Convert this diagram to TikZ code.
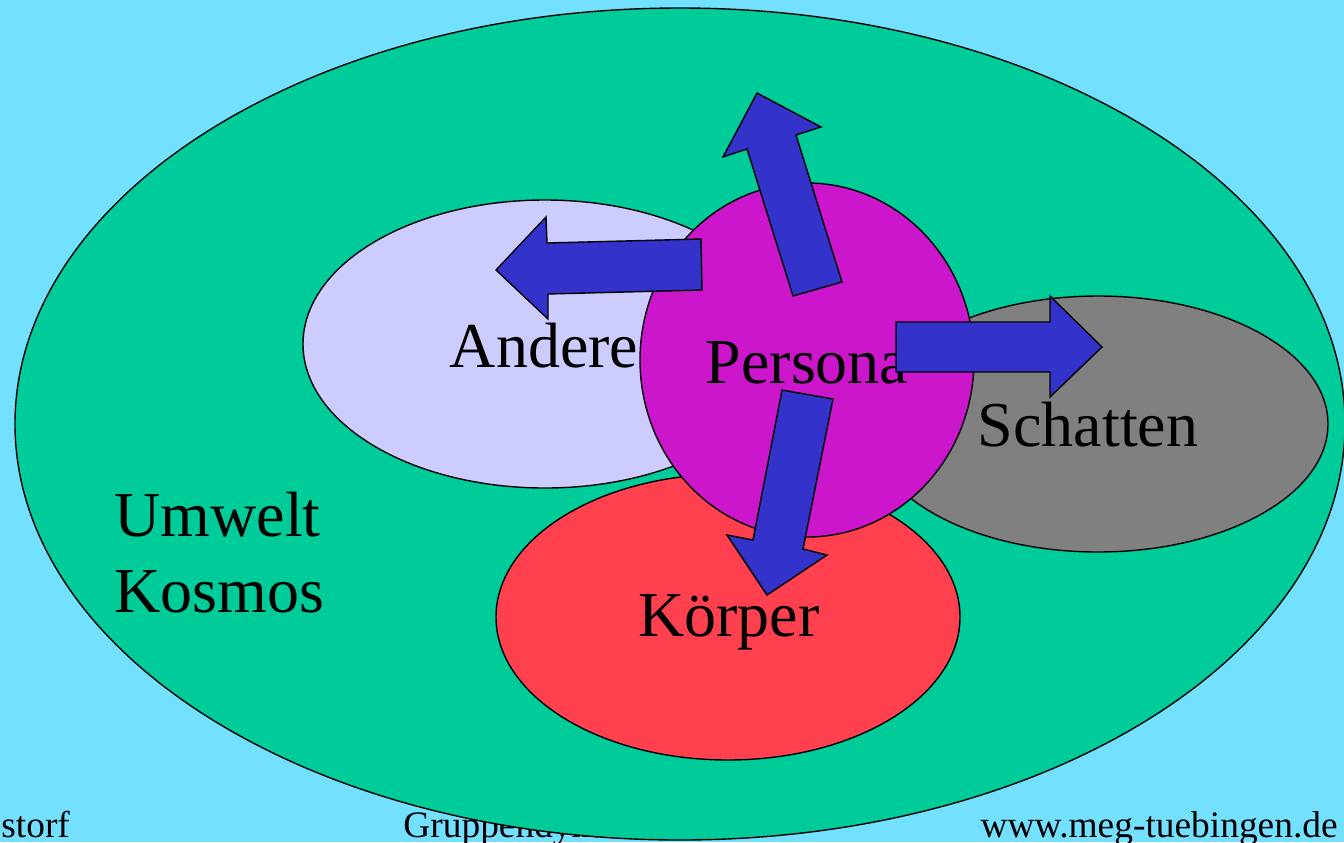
\documentclass[tikz,border=0pt]{standalone}
\usepackage{fontspec}
\setmainfont{Liberation Serif}
\usetikzlibrary{shapes.geometric}
\definecolor{himmel}{HTML}{74E0FF}
\definecolor{umweltgruen}{HTML}{00CC99}
\definecolor{andere}{HTML}{CCCCFF}
\definecolor{koerper}{HTML}{FF404F}
\definecolor{schatten}{HTML}{808080}
\definecolor{persona}{HTML}{CC16CC}
\definecolor{pfeilblau}{HTML}{3333CC}
\tikzset{
  feld/.style={draw=black, line width=0.7pt, ellipse, inner sep=0pt},
  gross/.style={font=\fontsize{32}{38}\selectfont, anchor=base, inner sep=0pt},
  fuss/.style={font=\fontsize{18.7}{22}\selectfont, anchor=base west, inner sep=0pt},
  pfeil/.style={draw=black, line width=0.7pt, fill=pfeilblau, line join=miter}
}
\begin{document}
\begin{tikzpicture}[x=0.5pt, y=-0.5pt]
  \useasboundingbox (0,0) rectangle (1344,842);
  \fill[himmel] (0,0) rectangle (1344,842);
  \clip (0,0) rectangle (1344,842);
  % Fusszeile
  \node[fuss] (autor) at (1,837) {storf};
  \node[fuss] (titel) at (403,837) {Gruppendynamik};
  \node[fuss, anchor=base east] (web) at (1338,837) {www.meg-tuebingen.de};
  % Felder
  \node[feld, fill=umweltgruen, minimum width=665pt, minimum height=416pt] (umwelt) at (680,424) {};
  \node[gross, anchor=base west] (umwelttext) at (114,536) {Umwelt};
  \node[gross, anchor=base west] (kosmostext) at (114,612) {Kosmos};
  \node[feld, fill=andere, minimum width=242pt, minimum height=144pt] (andere) at (545,344) {};
  \node[gross] (anderetext) at (544,367) {Andere};
  \node[feld, fill=schatten, minimum width=230pt, minimum height=128pt] (schattenfeld) at (1098,424) {};
  \node[gross] (schattentext) at (1088,446) {Schatten};
  \node[feld, fill=koerper, minimum width=232pt, minimum height=143pt] (koerperfeld) at (728,617) {};
  \node[gross] (koerpertext) at (729,636) {Körper};
  \node[feld, fill=persona, minimum width=167pt, minimum height=177pt] (personafeld) at (807,360) {};
  \node[gross] (personatext) at (807,383) {Persona};
  % Pfeile
  \draw[pfeil] (701,239) -- (547,243) -- (546,217) -- (496,270) -- (548,319) -- (548,294) -- (702,290) -- cycle;
  \draw[pfeil] (793,296) -- (747,149) -- (723,157) -- (757,93) -- (821,127) -- (796,135) -- (842,282) -- cycle;
  \draw[pfeil] (896,322) -- (1050,322) -- (1050,296) -- (1102,347) -- (1050,397) -- (1050,372) -- (896,372) -- cycle;
  \draw[pfeil] (782,390) -- (833,399) -- (803,549) -- (827,555) -- (767,595) -- (727,535) -- (753,540) -- cycle;
\end{tikzpicture}
\end{document}
